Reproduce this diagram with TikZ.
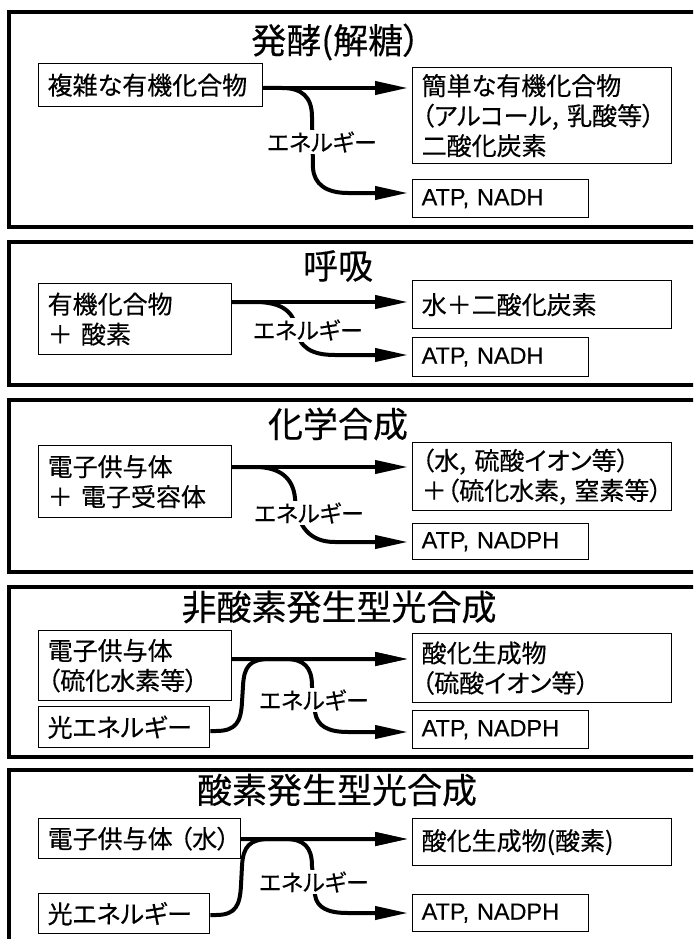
\documentclass[tikz,border=0pt]{standalone}
\usepackage{fontspec}
\setmainfont{Noto Sans CJK JP}[RawFeature=+palt, FakeBold=0.35]
\newfontfamily\latinfont{Liberation Sans}[FakeBold=0.25]
\usetikzlibrary{arrows.meta,calc}
\begin{document}
\begin{tikzpicture}[x=1pt,y=-1pt,
  frame/.style={line width=4pt},
  box/.style={draw, line width=1.3pt, anchor=north west, inner xsep=9pt, inner ysep=0pt,
              align=left, font=\fontsize{25}{30}\selectfont},
  atp/.style={box, font=\latinfont\fontsize{23.5}{28}\selectfont},
  ptitle/.style={font=\fontsize{35}{40}\selectfont, inner sep=0pt},
  elabel/.style={fill=white, inner sep=1.5pt, font=\fontsize{23}{28}\selectfont},
  conn/.style={line width=4pt, -{Triangle[length=33pt,width=13pt]}, shorten >=4pt}]
\useasboundingbox (0,0) rectangle (693,939);
\clip (0,0) rectangle (693,939);
\fill[white] (0,0) rectangle (693,939);

% frames
\draw[frame] (9,12) rectangle (710,227);
\draw[frame] (9,242) rectangle (710,385);
\draw[frame] (9,400) rectangle (710,572);
\draw[frame] (9,587) rectangle (710,757);
\draw[frame] (9,770) rectangle (710,960);

% titles
\node[ptitle] (T1) at (336,42) {発酵(解糖）};
\node[ptitle] (T2) at (338,266) {呼吸};
\node[ptitle] (T3) at (338,424) {化学合成};
\node[ptitle] (T4) at (339,607) {非酸素発生型光合成};
\node[ptitle] (T5) at (337,790) {酸素発生型光合成};

% ---------- panel 1
\node[box, text width=206pt, minimum height=43pt] (L1) at (38,63) {複雑な有機化合物};
\node[box, text width=241pt, minimum height=96pt] (R1) at (412,67)
  {簡単な有機化合物\\（アルコール,~乳酸等）\\二酸化炭素};
\node[atp, text width=158pt, minimum height=38pt] (A1) at (412,179) {ATP, NADH};
\coordinate (y1) at (0,88);
\coordinate (b1) at (0,193);
\draw[conn] (L1.east |- y1) -- (R1.west |- y1);
\draw[conn] (L1.east |- y1) -- (282,88) .. controls (302,88) and (312,97) .. (312,117)
  -- (313,168) .. controls (314,184) and (326,193) .. (348,193) -- (A1.west |- b1);
\node[elabel] (E1) at (322,142) {エネルギー};

% ---------- panel 2
\node[box, text width=175pt, minimum height=71pt] (L2) at (38,283) {有機化合物\\＋ 酸素};
\node[box, text width=241pt, minimum height=48pt] (R2) at (412,280) {水＋二酸化炭素};
\node[atp, text width=158pt, minimum height=39pt] (A2) at (412,337) {ATP, NADH};
\coordinate (y2) at (0,302);
\coordinate (b2) at (0,355);
\draw[conn] (L2.east |- y2) -- (R2.west |- y2);
\draw[conn] (L2.east |- y2) -- (255,302) .. controls (278,302) and (293,309) .. (296,328)
  .. controls (299,348) and (312,355) .. (335,355) -- (A2.west |- b2);
\node[elabel] (E2) at (308,330) {エネルギー};

% ---------- panel 3
\node[box, text width=175pt, minimum height=72pt] (L3) at (38,445) {電子供与体\\＋ 電子受容体};
\node[box, text width=241pt, minimum height=68pt] (R3) at (412,442)
  {（水,~硫酸イオン等）\\＋（硫化水素,~窒素等）};
\node[atp, text width=158pt, minimum height=36pt] (A3) at (412,523) {ATP, NADPH};
\coordinate (y3) at (0,467);
\coordinate (b3) at (0,542);
\draw[conn] (L3.east |- y3) -- (R3.west |- y3);
\draw[conn] (L3.east |- y3) -- (255,467) .. controls (280,467) and (293,478) .. (295,498)
  .. controls (297,527) and (310,542) .. (335,542) -- (A3.west |- b3);
\node[elabel] (E3) at (309,513) {エネルギー};

% ---------- panel 4
\node[box, text width=175pt, minimum height=70pt] (L4) at (38,630) {電子供与体\\（硫化水素等）};
\node[box, text width=153pt, minimum height=41pt] (G4) at (38,706) {光エネルギー};
\node[box, text width=241pt, minimum height=69pt] (R4) at (412,633) {酸化生成物\\（硫酸イオン等）};
\node[atp, text width=158pt, minimum height=38pt] (A4) at (412,710) {ATP, NADPH};
\coordinate (y4) at (0,659);
\coordinate (c4) at (0,731);
\coordinate (b4) at (0,732);
\draw[conn] (L4.east |- y4) -- (R4.west |- y4);
\draw[conn] (G4.east |- c4) -- (216,731) .. controls (236,731) and (241,722) .. (242,702)
  -- (243,686) .. controls (244,666) and (250,659) .. (270,659) -- (R4.west |- y4);
\draw[conn] (L4.east |- y4) -- (285,659) .. controls (304,659) and (312,667) .. (312,686)
  -- (315,712) .. controls (317,726) and (328,732) .. (348,732) -- (A4.west |- b4);
\node[elabel] (E4) at (314,700) {エネルギー};

% ---------- panel 5
\node[box, text width=184pt, minimum height=40pt] (L5) at (38,818) {電子供与体\hspace{7pt}（水）};
\node[box, text width=153pt, minimum height=40pt] (G5) at (38,893) {光エネルギー};
\node[box, text width=241pt, minimum height=47pt] (R5) at (412,818) {酸化生成物(酸素)};
\node[atp, text width=158pt, minimum height=37pt] (A5) at (412,894) {ATP, NADPH};
\coordinate (y5) at (0,839);
\coordinate (c5) at (0,915);
\coordinate (b5) at (0,913);
\draw[conn] (L5.east |- y5) -- (R5.west |- y5);
\draw[conn] (G5.east |- c5) -- (216,915) .. controls (236,915) and (240,905) .. (241,885)
  -- (242,866) .. controls (243,846) and (250,839) .. (270,839) -- (R5.west |- y5);
\draw[conn] (L5.east |- y5) -- (285,839) .. controls (304,839) and (312,847) .. (312,866)
  -- (315,895) .. controls (317,908) and (328,913) .. (348,913) -- (A5.west |- b5);
\node[elabel] (E5) at (314,882) {エネルギー};
\end{tikzpicture}
\end{document}
